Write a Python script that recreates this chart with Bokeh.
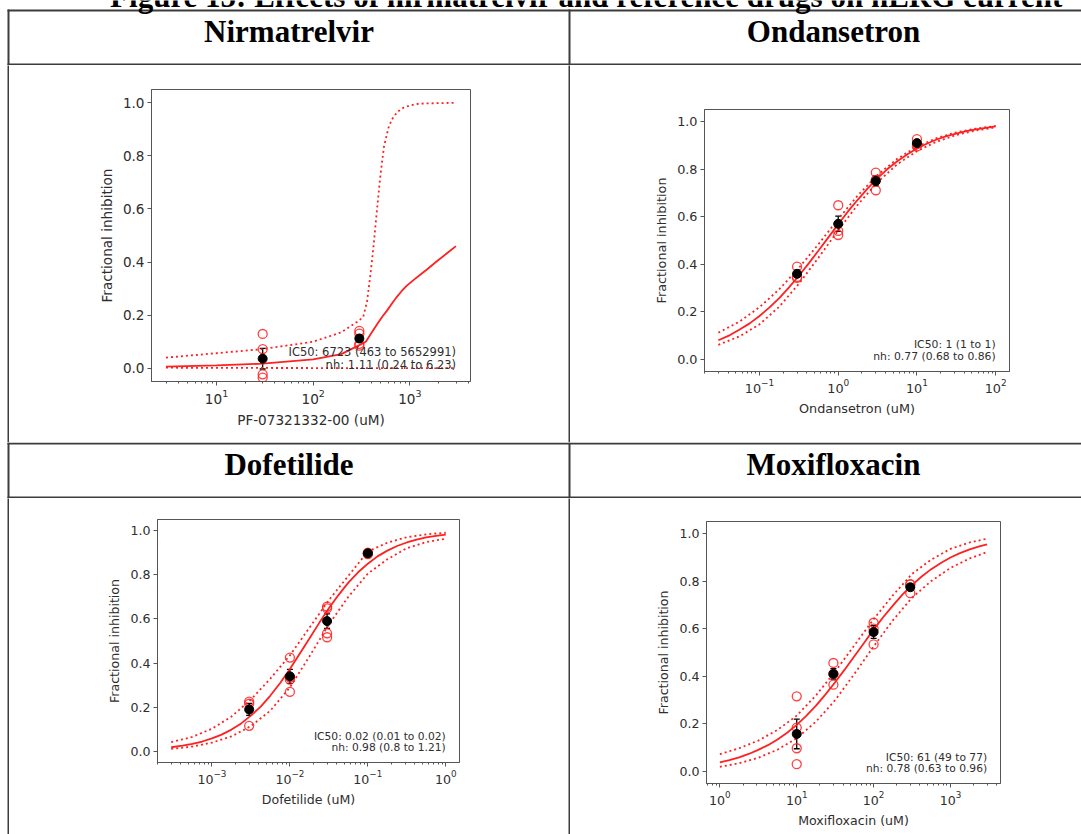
from bokeh.plotting import figure
from bokeh.models import (Range1d, FixedTicker, PrintfTickFormatter, Whisker, TeeHead,
                          ColumnDataSource, Spacer)
from bokeh.layouts import row, column
from bokeh.embed import file_html
from bokeh.resources import INLINE
from bokeh.core.properties import value
from bokeh.core.validation import silence
from bokeh.core.validation.warnings import MISSING_RENDERERS
import math

silence(MISSING_RENDERERS, True)

# ---------------- data ----------------
title_text = "Figure 15: Effects of nirmatrelvir and reference drugs on hERG current"
headers = ["Nirmatrelvir", "Ondansetron", "Dofetilide", "Moxifloxacin"]
xlabels = ["PF-07321332-00 (uM)", "Ondansetron (uM)", "Dofetilide (uM)", "Moxifloxacin (uM)"]
ylabel = "Fractional inhibition"
y_ticks = [0.0, 0.2, 0.4, 0.6, 0.8, 1.0]

# Nirmatrelvir
nir_fit_x = [3, 10, 30, 100, 195, 300, 350, 400, 460, 520, 580, 650, 730, 820, 925, 1080, 1260, 1500, 1860, 2400, 3000]
nir_fit_y = [0.006, 0.011, 0.017, 0.033, 0.053, 0.087, 0.10, 0.133, 0.167, 0.195, 0.217, 0.243, 0.268, 0.29, 0.31, 0.331, 0.35, 0.372, 0.40, 0.432, 0.46]
nir_hi_x = [3, 30, 100, 195, 300, 330, 360, 390, 420, 455, 490, 540, 600, 650, 740, 855, 1000, 1260, 3000]
nir_hi_y = [0.04, 0.072, 0.10, 0.135, 0.18, 0.195, 0.25, 0.35, 0.457, 0.59, 0.71, 0.836, 0.905, 0.937, 0.965, 0.981, 0.99, 0.997, 1.0]
nir_lo_x = [3, 30, 300, 3000]
nir_lo_y = [0.002, 0.001, 0.0005, 0.0]
nir_pts_x = [30, 30, 30, 30, 300, 300, 300, 300]
nir_pts_y = [0.129, 0.072, -0.023, -0.035, 0.141, 0.130, 0.092, 0.085]
nir_mean_x = [30, 300]
nir_mean_y = [0.036, 0.112]
nir_sem = [0.039, 0.014]
nir_text = ["IC50: 6723 (463 to 5652991)", "nh: 1.11 (0.24 to 6.23)"]

# Ondansetron
ond_fit_x = [0.03, 0.0422, 0.056, 0.075, 0.1, 0.133, 0.178, 0.237, 0.316, 0.422, 0.562, 0.75, 1,
             1.33, 1.78, 2.37, 3.16, 4.22, 5.62, 7.5, 10, 13.3, 17.8, 23.7, 31.6, 42.2, 56.2, 75, 100]
ond_fit_y = [0.081, 0.103, 0.126, 0.152, 0.183, 0.218, 0.258, 0.303, 0.352, 0.404, 0.458, 0.513, 0.568,
             0.622, 0.672, 0.719, 0.762, 0.800, 0.833, 0.861, 0.886, 0.906, 0.924, 0.938, 0.949, 0.959, 0.967, 0.973, 0.979]
ond_band_x = [0.03, 0.056, 0.1, 0.178, 0.316, 0.562, 1, 1.78, 3.16, 5.62, 10, 17.8, 31.6, 56.2, 100]
ond_hi_y = [0.113, 0.16, 0.22, 0.295, 0.385, 0.485, 0.59, 0.69, 0.775, 0.843, 0.894, 0.93, 0.954, 0.97, 0.981]
ond_lo_y = [0.062, 0.098, 0.148, 0.222, 0.318, 0.428, 0.543, 0.651, 0.745, 0.82, 0.875, 0.915, 0.943, 0.962, 0.975]
ond_pts_x = [0.3, 0.3, 0.3, 1, 1, 1, 3, 3, 3, 10, 10, 10]
ond_pts_y = [0.39, 0.347, 0.343, 0.648, 0.54, 0.523, 0.785, 0.754, 0.711, 0.926, 0.905, 0.895]
ond_mean_x = [0.3, 1, 3, 10]
ond_mean_y = [0.36, 0.57, 0.75, 0.909]
ond_sem = [0.015, 0.032, 0.021, 0.009]
ond_text = ["IC50: 1 (1 to 1)", "nh: 0.77 (0.68 to 0.86)"]

# Dofetilide
dof_fit_x = [0.0003, 0.00042, 0.00056, 0.00075, 0.001, 0.00133, 0.00178, 0.00237, 0.00316, 0.00422,
             0.00562, 0.0075, 0.01, 0.0133, 0.0178, 0.0237, 0.0316, 0.0422, 0.0562, 0.075, 0.1,
             0.133, 0.178, 0.237, 0.316, 0.422, 0.562, 0.75, 1]
dof_fit_y = [0.019, 0.026, 0.034, 0.045, 0.059, 0.076, 0.099, 0.127, 0.162, 0.203,
             0.253, 0.310, 0.373, 0.441, 0.511, 0.581, 0.648, 0.709, 0.764, 0.811, 0.850,
             0.883, 0.909, 0.930, 0.946, 0.959, 0.969, 0.976, 0.982]
dof_band_x = [0.0003, 0.00056, 0.001, 0.00178, 0.00316, 0.00562, 0.01, 0.0178, 0.0316, 0.0562, 0.1, 0.178, 0.316, 0.562, 1]
dof_hi_y = [0.042, 0.066, 0.103, 0.158, 0.235, 0.33, 0.435, 0.56, 0.685, 0.795, 0.905, 0.945, 0.97, 0.983, 0.99]
dof_lo_y = [0.012, 0.022, 0.04, 0.068, 0.115, 0.185, 0.29, 0.43, 0.575, 0.70, 0.805, 0.87, 0.92, 0.948, 0.963]
dof_pts_x = [0.003, 0.003, 0.003, 0.01, 0.01, 0.01, 0.01, 0.03, 0.03, 0.03, 0.03, 0.1, 0.1, 0.1]
dof_pts_y = [0.226, 0.216, 0.116, 0.425, 0.335, 0.325, 0.27, 0.656, 0.648, 0.535, 0.517, 0.897, 0.893, 0.90]
dof_mean_x = [0.003, 0.01, 0.03, 0.1]
dof_mean_y = [0.19, 0.34, 0.59, 0.897]
dof_sem = [0.027, 0.032, 0.033, 0.005]
dof_text = ["IC50: 0.02 (0.01 to 0.02)", "nh: 0.98 (0.8 to 1.21)"]

# Moxifloxacin
mox_fit_x = [1, 1.33, 1.78, 2.37, 3.16, 4.22, 5.62, 7.5, 10, 13.3, 17.8, 23.7, 31.6, 42.2, 56.2, 75,
             100, 133, 178, 237, 316, 422, 562, 750, 1000, 1330, 1780, 2370, 3000]
mox_fit_y = [0.039, 0.048, 0.060, 0.074, 0.091, 0.111, 0.135, 0.163, 0.196, 0.234, 0.277, 0.324, 0.375, 0.429, 0.484, 0.540,
             0.596, 0.648, 0.697, 0.743, 0.783, 0.819, 0.850, 0.876, 0.899, 0.917, 0.933, 0.946, 0.954]
mox_band_x = [1, 1.78, 3.16, 5.62, 10, 17.8, 31.6, 56.2, 100, 178, 316, 562, 1000, 1780, 3000]
mox_hi_y = [0.073, 0.098, 0.13, 0.175, 0.235, 0.32, 0.42, 0.53, 0.64, 0.74, 0.83, 0.89, 0.935, 0.962, 0.978]
mox_lo_y = [0.02, 0.035, 0.058, 0.092, 0.14, 0.21, 0.30, 0.41, 0.525, 0.635, 0.73, 0.80, 0.855, 0.895, 0.922]
mox_pts_x = [10, 10, 10, 10, 30, 30, 30, 100, 100, 100, 300, 300, 300]
mox_pts_y = [0.316, 0.185, 0.098, 0.031, 0.456, 0.41, 0.365, 0.625, 0.60, 0.534, 0.787, 0.785, 0.749]
mox_mean_x = [10, 30, 100, 300]
mox_mean_y = [0.158, 0.41, 0.586, 0.774]
mox_sem = [0.062, 0.022, 0.027, 0.012]
mox_text = ["IC50: 61 (49 to 77)", "nh: 0.78 (0.63 to 0.96)"]

# ---------------- layout constants / styling ----------------
PAGE_W = 1081
LEFT = 7            # left table border x
MID = 568           # middle table border x
RIGHT = 1096        # right table border (beyond the page)
LW = 2              # table line width
LINE = "#3c3c3c"
FRAME = "#555555"
TXT = "#2e2e2e"
RED = "#ff2020"


def blank(w, h, color):
    f = figure(width=w, height=h, toolbar_location=None, output_backend="svg",
               title_location=None, min_border=0,
               x_axis_location=None, y_axis_location=None,
               x_range=Range1d(0, w), y_range=Range1d(h, 0))
    f.background_fill_color = color
    f.border_fill_color = color
    f.outline_line_color = None
    f.grid.visible = False
    return f


def header_row(t1, t2, h, top, mid_y, title=None, title_y=None):
    """Full-width strip: table lines above/below a header row, plus header texts."""
    f = blank(PAGE_W, h, "white")
    f.quad(left=[LEFT, LEFT], right=[PAGE_W, PAGE_W], top=[top, h - LW],
           bottom=[top + LW, h], fill_color=LINE, line_color=None)
    f.quad(left=[LEFT, MID], right=[LEFT + LW, MID + LW], top=[top, top],
           bottom=[h, h], fill_color=LINE, line_color=None)
    c1 = (LEFT + LW + MID) / 2
    c2 = (MID + LW + RIGHT) / 2
    f.text(x=[c1, c2], y=[mid_y, mid_y], text=[t1, t2],
           text_font=value("Liberation Serif"), text_font_style="bold",
           text_font_size="31px", text_align="center", text_baseline="middle",
           text_color="black")
    if title is not None:
        f.text(x=[586], y=[title_y], text=[title], text_font=value("Liberation Serif"),
               text_font_style="bold", text_font_size="31px", text_align="center",
               text_baseline="middle", text_color="black")
    return f


def panel(cell_w, cell_h, fl, fr, ft, fb, fs, afs, line_gap,
          fit_x, fit_y, hi_x, hi_y, lo_x, lo_y, pts_x, pts_y, mx, my, sem, texts, xlabel):
    lx0, lx1 = math.log10(min(fit_x)), math.log10(max(fit_x))
    m = 0.05 * (lx1 - lx0)
    xr = Range1d(10 ** (lx0 - m), 10 ** (lx1 + m))
    p = figure(width=cell_w, height=cell_h, toolbar_location=None, output_backend="svg",
               title_location=None,
               x_axis_type="log", x_range=xr, y_range=Range1d(-0.05, 1.05),
               min_border_left=fl, min_border_right=cell_w - fr,
               min_border_top=ft, min_border_bottom=cell_h - fb)
    p.background_fill_color = "white"
    p.border_fill_color = "white"
    p.outline_line_color = FRAME
    p.outline_line_width = 1
    p.grid.visible = False

    k0 = math.floor(lx0 - m)
    k1 = math.ceil(lx1 + m)
    majors = [10.0 ** k for k in range(k0, k1 + 1)]
    minors = [mm * 10.0 ** k for k in range(k0, k1 + 1) for mm in range(2, 10)]
    p.xaxis.ticker = FixedTicker(ticks=majors, minor_ticks=minors)
    p.yaxis.ticker = FixedTicker(ticks=y_ticks, minor_ticks=[])
    p.yaxis.formatter = PrintfTickFormatter(format="%.1f")

    p.xaxis.axis_label = xlabel
    p.yaxis.axis_label = ylabel
    for ax in (p.xaxis[0], p.yaxis[0]):
        ax.axis_label_text_font = "DejaVu Sans"
        ax.axis_label_text_font_style = "normal"
        ax.axis_label_text_font_size = f"{fs}px"
        ax.axis_label_text_color = TXT
        ax.major_label_text_font = "DejaVu Sans"
        ax.major_label_text_font_size = f"{fs}px"
        ax.major_label_text_color = TXT
        ax.axis_line_color = FRAME
        ax.major_tick_line_color = FRAME
        ax.minor_tick_line_color = FRAME
        ax.major_tick_out = 4
        ax.major_tick_in = 0
        ax.minor_tick_out = 2
        ax.minor_tick_in = 0
        ax.major_label_standoff = 3
        ax.axis_label_standoff = 5

    p.line(fit_x, fit_y, line_color=RED, line_width=1.8)
    p.line(hi_x, hi_y, line_color=RED, line_width=1.8, line_dash="2 3")
    p.line(lo_x, lo_y, line_color=RED, line_width=1.8, line_dash="2 3")
    p.scatter(pts_x, pts_y, marker="circle", size=9, fill_color=None,
              line_color=RED, line_width=1.3, line_alpha=0.85)
    src = ColumnDataSource(dict(x=mx, lower=[a - b for a, b in zip(my, sem)],
                                upper=[a + b for a, b in zip(my, sem)]))
    p.add_layout(Whisker(source=src, base="x", lower="lower", upper="upper",
                         dimension="height", line_color="black", line_width=1.3,
                         upper_head=TeeHead(size=6, line_color="black", line_width=1.3),
                         lower_head=TeeHead(size=6, line_color="black", line_width=1.3)))
    p.scatter(mx, my, marker="circle", size=9, fill_color="black", line_color="black")

    xt = max(fit_x)
    p.text(x=[xt], y=[0], text=[texts[1]], text_align="right", text_baseline="middle",
           y_offset=-3.5, text_font=value("DejaVu Sans"), text_font_size=f"{afs}px",
           text_color=TXT)
    p.text(x=[xt], y=[0], text=[texts[0]], text_align="right", text_baseline="middle",
           y_offset=-3.5 - line_gap, text_font=value("DejaVu Sans"), text_font_size=f"{afs}px",
           text_color=TXT)
    return column(p, spacing=0)


W1 = MID - LEFT - LW          # 559
W2 = PAGE_W - MID - LW        # 511
H_P1, H_P2 = 377, 336

p1 = panel(W1, H_P1, 142, 461, 24, 316, 13.6, 11.5, 12.3,
           nir_fit_x, nir_fit_y, nir_hi_x, nir_hi_y, nir_lo_x, nir_lo_y,
           nir_pts_x, nir_pts_y, nir_mean_x, nir_mean_y, nir_sem, nir_text, xlabels[0])
p2 = panel(W2, H_P1, 134, 439, 44, 306, 12.8, 10.8, 11.7,
           ond_fit_x, ond_fit_y, ond_band_x, ond_hi_y, ond_band_x, ond_lo_y,
           ond_pts_x, ond_pts_y, ond_mean_x, ond_mean_y, ond_sem, ond_text, xlabels[1])
p3 = panel(W1, H_P2, 148, 450, 21, 264, 12.6, 10.7, 11.0,
           dof_fit_x, dof_fit_y, dof_band_x, dof_hi_y, dof_band_x, dof_lo_y,
           dof_pts_x, dof_pts_y, dof_mean_x, dof_mean_y, dof_sem, dof_text, xlabels[2])
p4 = panel(W2, H_P2, 136, 430, 23, 285, 12.6, 10.7, 10.8,
           mox_fit_x, mox_fit_y, mox_band_x, mox_hi_y, mox_band_x, mox_lo_y,
           mox_pts_x, mox_pts_y, mox_mean_x, mox_mean_y, mox_sem, mox_text, xlabels[3])

head1 = header_row(headers[0], headers[1], 65, 9, 31, title=title_text, title_y=-4)
head2 = header_row(headers[2], headers[3], 56, 0, 22)


def trow(a, b, h):
    return row(Spacer(width=LEFT, height=h), column(blank(LW, h, LINE)), a,
               column(blank(LW, h, LINE)), b, spacing=0)


layout = column(head1, trow(p1, p2, H_P1), head2, trow(p3, p4, H_P2), spacing=0)

open("out.html", "w").write(file_html(layout, INLINE))
